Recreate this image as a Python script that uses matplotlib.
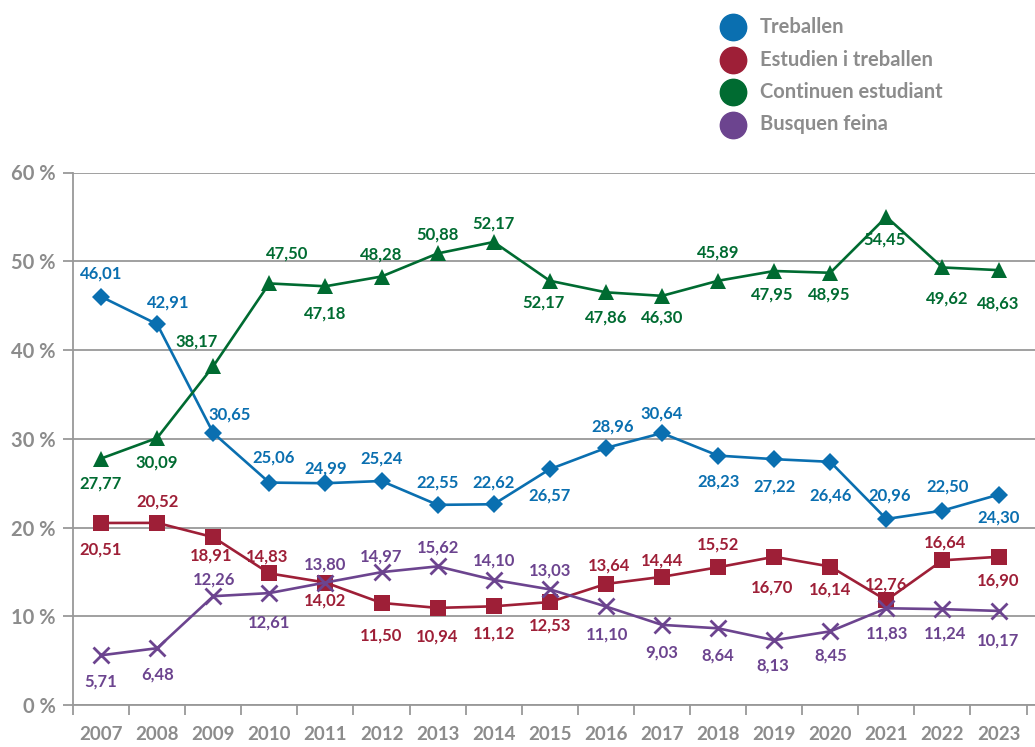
import matplotlib.pyplot as plt
from matplotlib.lines import Line2D

plt.rcParams['font.family'] = ['Lato', 'DejaVu Sans']

years = ['2007', '2008', '2009', '2010', '2011', '2012', '2013', '2014', '2015',
         '2016', '2017', '2018', '2019', '2020', '2021', '2022', '2023']

# values as drawn on the chart
treballen = [46.01, 42.91, 30.65, 25.06, 24.99, 25.24, 22.55, 22.62, 26.57,
             28.96, 30.64, 28.1, 27.7, 27.4, 20.96, 21.9, 23.7]
estudien = [20.51, 20.52, 18.91, 14.83, 13.8, 11.5, 10.94, 11.12, 11.6,
            13.64, 14.44, 15.52, 16.7, 15.6, 11.8, 16.3, 16.7]
continuen = [27.77, 30.09, 38.17, 47.5, 47.18, 48.28, 50.88, 52.17, 47.8,
             46.5, 46.1, 47.8, 48.9, 48.7, 55.0, 49.3, 49.0]
busquen = [5.6, 6.4, 12.26, 12.61, 13.8, 14.97, 15.62, 14.1, 13.03,
           11.1, 9.03, 8.64, 7.3, 8.3, 10.9, 10.8, 10.6]

# printed labels (as they appear in the source)
treballen_lbl = ['46,01', '42,91', '30,65', '25,06', '24,99', '25,24', '22,55', '22,62', '26,57',
                 '28,96', '30,64', '28,23', '27,22', '26,46', '20,96', '22,50', '24,30']
estudien_lbl = ['20,51', '20,52', '18,91', '14,83', '14,02', '11,50', '10,94', '11,12', '12,53',
                '13,64', '14,44', '15,52', '16,70', '16,14', '12,76', '16,64', '16,90']
continuen_lbl = ['27,77', '30,09', '38,17', '47,50', '47,18', '48,28', '50,88', '52,17', '52,17',
                 '47,86', '46,30', '45,89', '47,95', '48,95', '54,45', '49,62', '48,63']
busquen_lbl = ['5,71', '6,48', '12,26', '12,61', '13,80', '14,97', '15,62', '14,10', '13,03',
               '11,10', '9,03', '8,64', '8,13', '8,45', '11,83', '11,24', '10,17']

# label offsets in pixels (dx, dy), positive dy = above
treballen_off = [(0, 23), (11, 22), (16, 18), (4, 25), (0, 15), (0, 22), (0, 22), (0, 22), (0, -26),
                 (7, 21), (0, 20), (0, -26), (0, -27), (0, -34), (3, 23), (5, 24), (0, -23)]
estudien_off = [(0, -27), (0, 21), (-2, -18), (-2, 17), (0, -18), (0, -33), (0, -29), (0, -27), (0, -23),
                (3, 18), (0, 16), (0, 23), (-2, -31), (0, -23), (0, 16), (3, 18), (0, -24)]
continuen_off = [(0, -25), (0, -25), (-17, 25), (18, 30), (0, -27), (0, 22), (0, 19), (0, 18), (-6, -22),
                 (0, -25), (0, -22), (0, 28), (-2, -24), (-1, -22), (-2, -23), (5, -31), (0, -33)]
busquen_off = [(0, -26), (0, -26), (1, 17), (0, -29), (0, 18), (0, 16), (0, 19), (0, 19), (0, 19),
               (1, -28), (0, -28), (0, -27), (-1, -25), (0, -24), (1, -25), (3, -24), (0, -30)]

blue = '#0a6fb0'
red = '#9e1f37'
green = '#006b31'
purple = '#6c448f'
grey = '#999999'
txt_grey = '#8c8c8c'

fig = plt.figure(figsize=(10.35, 7.47), dpi=100)
ax = fig.add_axes([73 / 1035, 42 / 747, 962 / 1035, 532.5 / 747])

x = list(range(len(years)))
series = [
    (treballen, treballen_lbl, treballen_off, blue, 'D', 9),
    (continuen, continuen_lbl, continuen_off, green, '^', 11),
    (estudien, estudien_lbl, estudien_off, red, 's', 11),
    (busquen, busquen_lbl, busquen_off, purple, 'x', 12),
]
for vals, lbls, offs, col, mk, ms in series:
    ax.plot(x, vals, color=col, lw=1.9, marker=mk, markersize=ms,
            markeredgewidth=2 if mk == 'x' else 0, markeredgecolor=col, zorder=3)
    for xi, v, lab, (dx, dy) in zip(x, vals, lbls, offs):
        ax.annotate(lab, (xi, v), xytext=(dx, dy), textcoords='offset pixels',
                    ha='center', va='center', color=col, fontsize=12,
                    fontweight='bold', zorder=4)

ax.set_ylim(0, 60)
ax.set_xlim(-0.5, 16.65)
ax.set_yticks(range(0, 61, 10))
ax.set_yticklabels([f'{v} %' for v in range(0, 61, 10)])
ax.yaxis.grid(True, color=grey, lw=1.3)
ax.set_axisbelow(True)

ax.set_xticks([i - 0.5 for i in range(18)])
ax.set_xticklabels([])
ax.set_xticks(x, minor=True)
ax.set_xticklabels(years, minor=True)
ax.tick_params(axis='x', which='major', length=7.5, width=1.3, color=grey, direction='out')
ax.tick_params(axis='x', which='minor', length=0, pad=15, labelsize=13.5,
               labelcolor=txt_grey)
ax.tick_params(axis='y', length=7.5, width=1.3, color=grey, pad=5, labelsize=14.5,
               labelcolor=txt_grey)
for lab in ax.get_xticklabels(minor=True) + ax.get_yticklabels():
    lab.set_fontweight('bold')

for s in ['top', 'right']:
    ax.spines[s].set_visible(False)
ax.spines['left'].set_color(grey)
ax.spines['left'].set_linewidth(1.3)
ax.spines['bottom'].set_color(grey)
ax.spines['bottom'].set_linewidth(1.3)

# legend
legend_names = ['Treballen', 'Estudien i treballen', 'Continuen estudiant', 'Busquen feina']
legend_cols = [blue, red, green, purple]
for i, (name, col) in enumerate(zip(legend_names, legend_cols)):
    yy = 1 - (27 + i * 32.5) / 747
    fig.add_artist(Line2D([733 / 1035], [yy], marker='o', markersize=19,
                          color=col, transform=fig.transFigure))
    fig.text(760 / 1035, yy, name, va='center', ha='left', fontsize=14.5,
             fontweight='bold', color=txt_grey)

fig.savefig('out.png', dpi=100)
